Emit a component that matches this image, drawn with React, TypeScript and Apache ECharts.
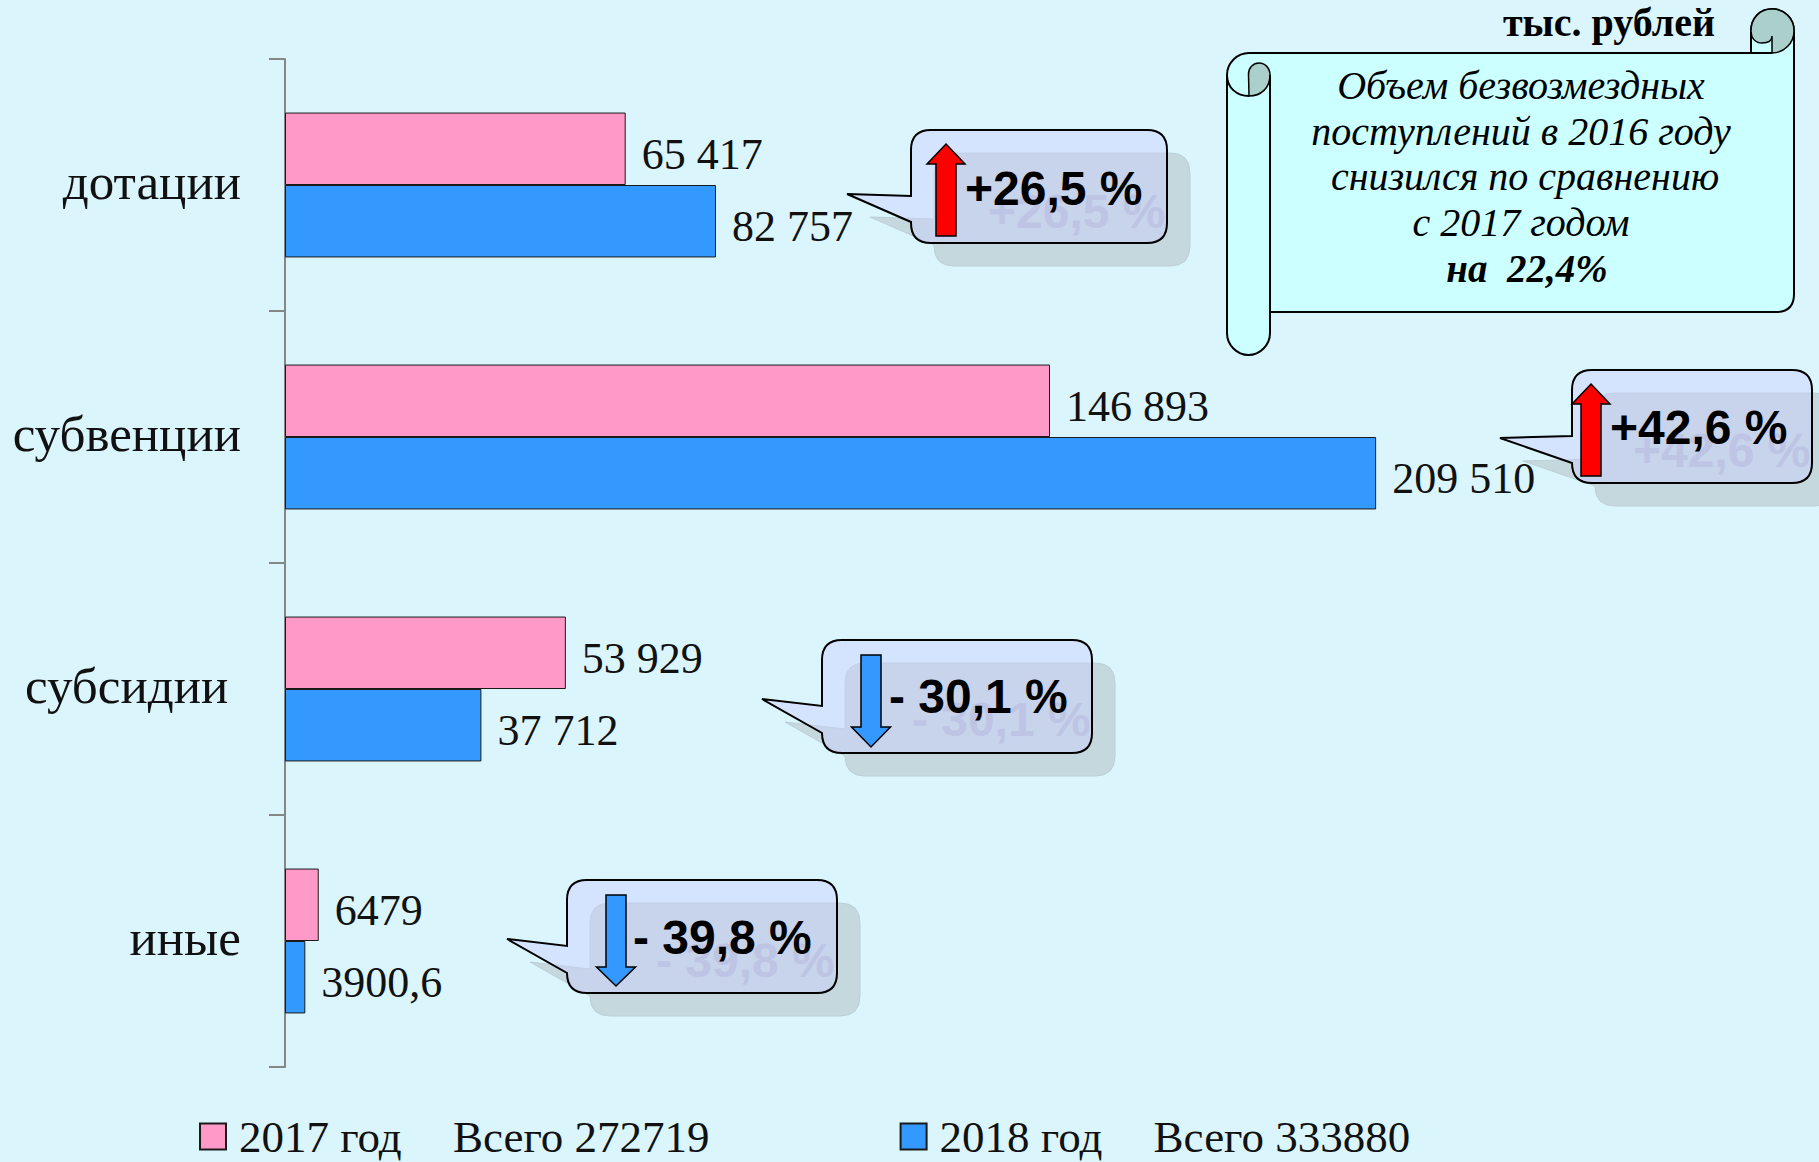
import React, { useEffect, useRef } from "react";
import * as echarts from "echarts";

const categories = ["дотации", "субвенции", "субсидии\u00a0", "иные"];
const values2017 = [65417, 146893, 53929, 6479];
const values2018 = [82757, 209510, 37712, 3900.6];
const labels2017 = ["65 417", "146 893", "53 929", "6479"];
const labels2018 = ["82 757", "209 510", "37 712", "3900,6"];
const seriesNames = ["2017 год", "2018 год"];
const totals = ["Всего 272719", "Всего 333880"];
const changes = ["+26,5 %", "+42,6 %", "- 30,1 %", "- 39,8 %"];
const unitText = "тыс. рублей";
const noteLines = ["Объем безвозмездных", "поступлений в 2016 году", "снизился по сравнению", "с 2017 годом"];
const noteBold = "на  22,4%";

const BG = "#DBF5FD";
const SERIF = '"Liberation Serif", serif';
const SANS = '"Liberation Sans", sans-serif';

// annotation layout: left, top, width, tip x, tip y, attach y1, attach y2, text x, text y
const calloutBoxes = [
  [911, 130, 256, 847, 194, 196, 222, 965, 188],
  [1572, 370, 240, 1500, 438, 436, 463, 1610, 427],
  [822, 640, 270, 762, 699, 706, 733, 889, 696],
  [567, 880, 270, 507, 939, 946, 973, 633, 937],
];
const H = 113;
const R = 20;

function calloutPath(b: number[]) {
  const [l, t, w, tx, ty, a1, a2] = b;
  const r = l + w;
  const bt = t + H;
  return `M${l + R} ${t}H${r - R}Q${r} ${t} ${r} ${t + R}V${bt - R}Q${r} ${bt} ${r - R} ${bt}H${l + R}Q${l} ${bt} ${l} ${bt - R}V${a2}L${tx} ${ty}L${l} ${a1}V${t + R}Q${l} ${t} ${l + R} ${t}Z`;
}

function reg(name: string, d: string) {
  echarts.graphic.registerShape(name, echarts.graphic.extendPath(d as any, {} as any) as any);
}

calloutBoxes.forEach((b, i) => reg("callout" + i, calloutPath(b)));

function upArrow(cx: number, tip: number, base: number, bottom: number, hw: number, sw: number) {
  return `M${cx} ${tip}L${cx + hw} ${base}H${cx + sw}V${bottom}H${cx - sw}V${base}H${cx - hw}Z`;
}
function downArrow(cx: number, top: number, base: number, tip: number, hw: number, sw: number) {
  return `M${cx - sw} ${top}H${cx + sw}V${base}H${cx + hw}L${cx} ${tip}L${cx - hw} ${base}H${cx - sw}Z`;
}
const arrowPaths = [
  upArrow(946, 144, 164, 236, 19, 10),
  upArrow(1591, 384, 404, 476, 19, 10),
  downArrow(871, 655, 727, 747, 19.5, 10),
  downArrow(616, 895, 967, 986, 19.5, 10),
];
const arrowColors = ["#FF0000", "#FF0000", "#3399FF", "#3399FF"];
arrowPaths.forEach((d, i) => reg("arrow" + i, d));

reg("scrollBody", "M1270 312H1776Q1794 312 1794 294V31C1794 18 1784 9 1772 9C1760 9 1751 18 1751 31V53H1249C1237 53 1227 63 1227 75V333C1227 345 1237 355 1248.5 355C1260 355 1270 345 1270 333Z");
reg("scrollCurlLeft", "M1249 96C1261 96 1270 88 1270 75C1270 68 1265 63 1259 63C1253 63 1248.5 68 1248.5 74Z");
reg("scrollCurlRight", "M1751 31C1751 18 1760 9 1772 9C1784 9 1794 18 1794 31C1794 43 1784 53 1772 53V36C1772 41 1768 43 1762 43C1755 43 1751 38 1751 31Z");
reg("scrollLines", "M1227 75C1227 88 1237 96 1249 96M1270 75V312M1751 53H1772");

function txt(text: string, x: number, y: number, fontSize: number, opts: any = {}, z = 20) {
  return {
    type: "text",
    z,
    silent: true,
    style: {
      text,
      x,
      y,
      fontSize,
      fontFamily: opts.fontFamily || SERIF,
      fontWeight: opts.fontWeight || "normal",
      fontStyle: opts.fontStyle || "normal",
      fill: opts.fill || "#000",
      textAlign: opts.textAlign || "left",
      verticalAlign: "middle",
      textVerticalAlign: "middle",
    },
  };
}

function buildGraphics() {
  const els: any[] = [];
  calloutBoxes.forEach((b, i) => {
    els.push({ type: "callout" + i, x: 23, y: 23, z: 10, silent: true, style: { fill: "#C5D8DE", stroke: "#BBD0D6", lineWidth: 1 } });
    els.push(txt(changes[i], b[7] + 23, b[8] + 23, 48, { fontFamily: SANS, fontWeight: "bold", fill: "#B4BECF" }, 11));
    els.push({ type: "callout" + i, x: 0, y: 0, z: 12, silent: true, style: { fill: "rgba(204,204,255,0.42)", stroke: "#000", lineWidth: 2 } });
    els.push(txt(changes[i], b[7], b[8], 48, { fontFamily: SANS, fontWeight: "bold" }, 13));
    els.push({ type: "arrow" + i, x: 0, y: 0, z: 14, silent: true, style: { fill: arrowColors[i], stroke: "#000", lineWidth: 1.5 } });
  });
  els.push({ type: "scrollBody", x: 0, y: 0, z: 15, silent: true, style: { fill: "#CCFFFF", stroke: "#000", lineWidth: 2 } });
  els.push({ type: "scrollCurlLeft", x: 0, y: 0, z: 16, silent: true, style: { fill: "#ABCFCB", stroke: "#000", lineWidth: 1.5 } });
  els.push({ type: "scrollCurlRight", x: 0, y: 0, z: 16, silent: true, style: { fill: "#ABCFCB", stroke: "#000", lineWidth: 1.5 } });
  els.push({ type: "scrollLines", x: 0, y: 0, z: 16, silent: true, style: { fill: "none", stroke: "#000", lineWidth: 2 } });
  const lineY = [85, 131, 176, 222];
  const lineX = [1521, 1521, 1525, 1521];
  noteLines.forEach((t, i) => {
    els.push(txt(t, lineX[i], lineY[i], 40, { fontStyle: "italic", textAlign: "center" }));
  });
  els.push(txt(noteBold, 1527, 268, 39, { fontStyle: "italic", fontWeight: "bold", textAlign: "center" }));
  els.push(txt(unitText, 1715, 22, 40, { fontWeight: "bold", textAlign: "right" }));
  return els;
}

export default function App() {
  const ref = useRef<HTMLDivElement>(null);
  useEffect(() => {
    document.body.style.margin = "0";
    document.body.style.background = BG;
    const chart = echarts.init(ref.current!, undefined, { renderer: "svg" });
    const labelStyle = {
      show: true,
      position: "right" as const,
      distance: 16,
      fontSize: 44,
      fontFamily: SERIF,
      color: "#111",
    };
    chart.setOption({
      animation: false,
      backgroundColor: BG,
      grid: { left: 285, top: 59, width: 1302, height: 1008, containLabel: false },
      xAxis: { type: "value", min: 0, max: 250000, show: false, splitLine: { show: false } },
      yAxis: {
        type: "category",
        inverse: true,
        data: categories,
        axisLine: { show: true, lineStyle: { color: "#868686", width: 2 } },
        axisTick: { show: true, length: 16, lineStyle: { color: "#868686", width: 2 } },
        axisLabel: { fontSize: 51, fontFamily: SERIF, color: "#111", margin: 44, align: "right", verticalAlign: "bottom", lineHeight: 7 },
      },
      legend: {
        left: 199,
        top: 1114,
        padding: 0,
        itemWidth: 26,
        itemHeight: 26,
        itemGap: 190,
        icon: "rect",
        data: seriesNames,
        formatter: (name: string) => `{n|${name}}{t|${totals[seriesNames.indexOf(name)]}}`,
        textStyle: {
          rich: {
            n: { width: 214, padding: [0, 0, 0, 8], fontSize: 45, fontFamily: SERIF, color: "#111" },
            t: { width: 256, fontSize: 45, fontFamily: SERIF, color: "#111" },
          },
        },
      },
      series: [
        {
          type: "bar",
          name: seriesNames[0],
          data: values2017,
          barCategoryGap: "42.5%",
          barGap: "0%",
          itemStyle: { color: "#FF99C8", borderColor: "#1a1a1a", borderWidth: 1 },
          label: { ...labelStyle, offset: [0, 6], formatter: (p: any) => labels2017[p.dataIndex] },
        },
        {
          type: "bar",
          name: seriesNames[1],
          data: values2018,
          itemStyle: { color: "#3399FF", borderColor: "#1a1a1a", borderWidth: 1 },
          label: { ...labelStyle, offset: [0, 5], formatter: (p: any) => labels2018[p.dataIndex] },
        },
      ],
      graphic: { elements: buildGraphics() },
    });
    return () => chart.dispose();
  }, []);
  return <div ref={ref} style={{ width: 1819, height: 1162 }} />;
}
